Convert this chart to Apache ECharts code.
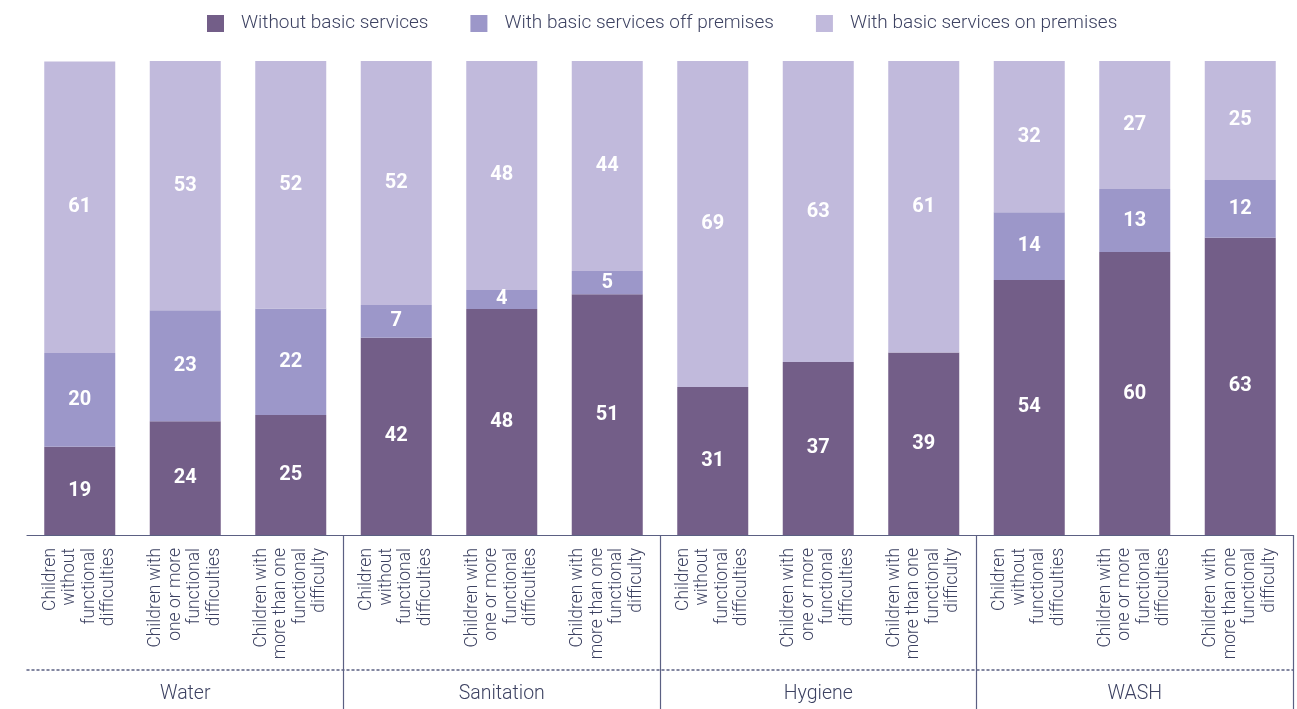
<!DOCTYPE html>
<html>
<head>
<meta charset="utf-8">
<script src="https://cdn.jsdelivr.net/npm/echarts@6/dist/echarts.min.js"></script>
<style>html,body{margin:0;padding:0;background:#fff}#c{width:1297px;height:709px}</style>
</head>
<body>
<div id="c"></div>
<script>
const categories = [
  'Children\nwithout\nfunctional\ndifficulties',
  'Children with\none or more\nfunctional\ndifficulties',
  'Children with\nmore than one\nfunctional\ndifficulty',
  'Children\nwithout\nfunctional\ndifficulties',
  'Children with\none or more\nfunctional\ndifficulties',
  'Children with\nmore than one\nfunctional\ndifficulty',
  'Children\nwithout\nfunctional\ndifficulties',
  'Children with\none or more\nfunctional\ndifficulties',
  'Children with\nmore than one\nfunctional\ndifficulty',
  'Children\nwithout\nfunctional\ndifficulties',
  'Children with\none or more\nfunctional\ndifficulties',
  'Children with\nmore than one\nfunctional\ndifficulty'
];
const groups = ['Water', 'Sanitation', 'Hygiene', 'WASH'];
const seriesNames = ['Without basic services', 'With basic services off premises', 'With basic services on premises'];
const withoutBasic = [18.6, 24, 25.3, 41.6, 47.7, 50.8, 31.2, 36.5, 38.5, 53.8, 59.7, 62.7];
const offPremises  = [19.8, 23.4, 22.49, 6.9, 4, 4.9, 0, 0, 0, 14.3, 13.3, 12.2];
const onPremises   = [61.49, 52.6, 52.2, 51.5, 48.3, 44.3, 68.8, 63.49, 61.49, 31.9, 27, 25.1];
const colors = ['#735e88', '#9c97c9', '#c1badc'];

const font = 'Roboto, "Liberation Sans", sans-serif';
const textColor = '#3d4262';
const lineColor = '#5b6083';

function mkSeries(name, data, color) {
  return {
    name: name, type: 'bar', stack: 'all', data: data, barWidth: 71,
    itemStyle: { color: color },
    label: {
      show: true, position: 'inside', color: '#fff', fontSize: 20, fontWeight: 'bold',
      fontFamily: font,
      formatter: p => (p.value ? Math.round(p.value) : '')
    }
  };
}

const chart = echarts.init(document.getElementById('c'), null, { renderer: 'canvas' });
chart.setOption({
  animation: false,
  color: colors,
  legend: {
    top: 9, left: 202, itemWidth: 17, itemHeight: 17, itemGap: 42, icon: 'rect',
    textStyle: { fontSize: 19, color: textColor, fontFamily: font, fontWeight: 300, padding: [0, 0, 0, 12] },
    data: seriesNames
  },
  grid: { left: 27, right: 4, top: 61, bottom: 174 },
  xAxis: [{
    type: 'category', data: categories, position: 'bottom',
    axisLine: { show: true, lineStyle: { color: lineColor, width: 1.2 } },
    axisTick: {
      show: true, length: 174, lineStyle: { color: lineColor, width: 1.2 },
      interval: function (i) { return i === 3 || i === 6 || i === 9; }
    },
    axisLabel: {
      interval: 0, rotate: 90, margin: 13, fontSize: 17.5, lineHeight: 19.5,
      color: textColor, fontFamily: font, fontWeight: 300, align: 'right'
    }
  }, {
    type: 'category', data: groups, position: 'bottom', offset: 135,
    axisLine: { show: true, lineStyle: { color: lineColor, width: 1.5, type: [2, 3] } },
    axisTick: { show: false },
    axisLabel: { fontSize: 19.5, margin: 14, color: textColor, fontFamily: font, fontWeight: 300 }
  }],
  yAxis: { type: 'value', min: 0, max: 100, show: false, splitLine: { show: false } },
  series: [
    mkSeries(seriesNames[0], withoutBasic, colors[0]),
    mkSeries(seriesNames[1], offPremises, colors[1]),
    mkSeries(seriesNames[2], onPremises, colors[2])
  ]
});
</script>
</body>
</html>
